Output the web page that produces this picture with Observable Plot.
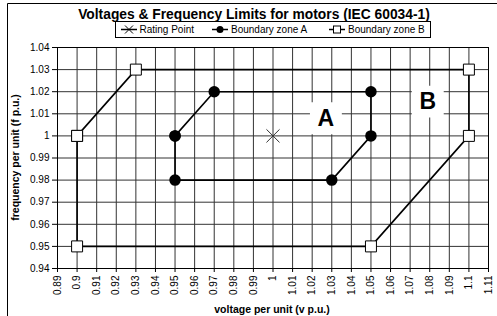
<!DOCTYPE html>
<html>
<head>
<meta charset="utf-8">
<script src="https://cdn.jsdelivr.net/npm/d3@7"></script>
<script src="https://cdn.jsdelivr.net/npm/@observablehq/plot@0.6"></script>
<style>
  html, body { margin: 0; padding: 0; background: #fff; }
  #chart { width: 497px; height: 316px; }
</style>
</head>
<body>
<div id="chart"></div>
<script>
// ---- data ----
const xTicks = [0.89, 0.90, 0.91, 0.92, 0.93, 0.94, 0.95, 0.96, 0.97, 0.98, 0.99, 1.00, 1.01, 1.02, 1.03, 1.04, 1.05, 1.06, 1.07, 1.08, 1.09, 1.10, 1.11];
const yTicks = [0.94, 0.95, 0.96, 0.97, 0.98, 0.99, 1.00, 1.01, 1.02, 1.03, 1.04];

const ratingV = [1.00];
const ratingF = [1.00];

const zoneAV = [0.95, 0.97, 1.05, 1.05, 1.03, 0.95, 0.95];
const zoneAF = [1.00, 1.02, 1.02, 1.00, 0.98, 0.98, 1.00];

const zoneBV = [0.90, 0.93, 1.10, 1.10, 1.05, 0.90, 0.90];
const zoneBF = [1.00, 1.03, 1.03, 1.00, 0.95, 0.95, 1.00];

const zoneLabels = ["A", "B"];
const zoneLabelV = [1.027, 1.079];
const zoneLabelF = [1.008, 1.0155];

const titleText = "Voltages & Frequency Limits for motors (IEC 60034-1)";
const seriesNames = ["Rating Point", "Boundary zone A", "Boundary zone B"];
const xTitle = "voltage per unit (v p.u.)";
const yTitle = "frequency per unit (f p.u.)";

// ---- build tables ----
const rating = ratingV.map((v, i) => ({v, f: ratingF[i]}));
const zoneA = zoneAV.map((v, i) => ({v, f: zoneAF[i]}));
const zoneB = zoneBV.map((v, i) => ({v, f: zoneBF[i]}));
const labels = zoneLabels.map((t, i) => ({t, v: zoneLabelV[i], f: zoneLabelF[i]}));

const fmt = d => String(+d.toFixed(2));
const FONT = "'Liberation Sans', Arial, sans-serif";

const svg = Plot.plot({
  width: 497,
  height: 316,
  marginLeft: 57,
  marginRight: 9,
  marginTop: 47,
  marginBottom: 48,
  style: {fontFamily: FONT, fontSize: "10px", background: "#fff", color: "#000"},
  x: {domain: [0.89, 1.11]},
  y: {domain: [0.94, 1.04]},
  marks: [
    Plot.gridX(xTicks, {stroke: "#333", strokeOpacity: 1, strokeWidth: 1}),
    Plot.gridY(yTicks, {stroke: "#333", strokeOpacity: 1, strokeWidth: 1}),
    Plot.frame({stroke: "#000", strokeWidth: 1}),
    Plot.axisY(yTicks, {tickFormat: fmt, tickSize: 5, tickPadding: 3, label: null, fontSize: 10}),
    Plot.axisX(xTicks, {tickFormat: fmt, tickSize: 4, tickPadding: 3, tickRotate: -90, label: null, fontSize: 10}),
    Plot.line(zoneB, {x: "v", y: "f", stroke: "#000", strokeWidth: 1.6}),
    Plot.line(zoneA, {x: "v", y: "f", stroke: "#000", strokeWidth: 1.6}),
    Plot.dot(zoneB, {x: "v", y: "f", symbol: "square", r: 6.2, fill: "#fff", stroke: "#000", strokeWidth: 1}),
    Plot.dot(zoneA, {x: "v", y: "f", symbol: "circle", r: 5, fill: "#000", stroke: "#000"}),
    Plot.dot(rating, {x: "v", y: "f", symbol: "times", r: 6, stroke: "#333", strokeWidth: 1}),
    Plot.dot(labels, {x: "v", y: "f", symbol: "square", r: 18, fill: "#fff", stroke: "none"}),
    Plot.text(labels, {x: "v", y: "f", text: "t", fontSize: 23, fontWeight: "bold", fill: "#000", fontFamily: FONT})
  ]
});

const s = d3.select(svg);
// outer border (chart area)
s.append("path").attr("d", "M7.5,320 V3.5 H500").attr("fill", "none").attr("stroke", "#000").attr("stroke-width", 1);
// title
s.append("text").attr("x", 254).attr("y", 18.5).attr("text-anchor", "middle")
  .attr("font-family", FONT).attr("font-size", 13.8).attr("font-weight", "bold").text(titleText);
// axis titles
s.append("text").attr("x", 272).attr("y", 313).attr("text-anchor", "middle")
  .attr("font-family", FONT).attr("font-size", 10.5).attr("font-weight", "bold").text(xTitle);
s.append("text").attr("transform", "translate(18.5,157.5) rotate(-90)").attr("text-anchor", "middle")
  .attr("font-family", FONT).attr("font-size", 10.5).attr("font-weight", "bold").text(yTitle);

// legend
const lg = s.append("g").attr("font-family", FONT).attr("font-size", 10).attr("text-anchor", "start");
lg.append("rect").attr("x", 115.5).attr("y", 21.5).attr("width", 315).attr("height", 16)
  .attr("fill", "#fff").attr("stroke", "#000").attr("stroke-width", 1);
const items = [
  {x0: 121, x1: 137, text: seriesNames[0], sym: "times", tx: 139.5},
  {x0: 212, x1: 228, text: seriesNames[1], sym: "circle", tx: 231},
  {x0: 329, x1: 345, text: seriesNames[2], sym: "square", tx: 348}
];
const ly = 29.5;
for (const it of items) {
  lg.append("line").attr("x1", it.x0).attr("x2", it.x1).attr("y1", ly).attr("y2", ly)
    .attr("stroke", "#000").attr("stroke-width", 1.5);
  const cx = (it.x0 + it.x1) / 2;
  if (it.sym === "times") {
    lg.append("path").attr("d", `M${cx-4},${ly-4}L${cx+4},${ly+4}M${cx-4},${ly+4}L${cx+4},${ly-4}`)
      .attr("fill", "none").attr("stroke", "#000").attr("stroke-width", 1);
  } else if (it.sym === "circle") {
    lg.append("circle").attr("cx", cx).attr("cy", ly).attr("r", 3.5).attr("fill", "#000");
  } else {
    lg.append("rect").attr("x", cx - 3.5).attr("y", ly - 3.5).attr("width", 7).attr("height", 7)
      .attr("fill", "#fff").attr("stroke", "#000").attr("stroke-width", 1);
  }
  lg.append("text").attr("x", it.tx).attr("y", ly + 3.5).attr("text-anchor", "start").text(it.text);
}

document.getElementById("chart").appendChild(svg);
</script>
</body>
</html>
